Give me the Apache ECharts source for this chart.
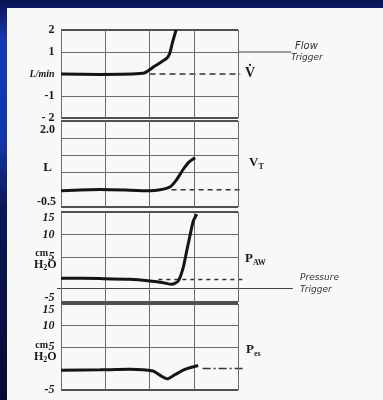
<!DOCTYPE html>
<html><head><meta charset="utf-8">
<script src="https://cdn.jsdelivr.net/npm/echarts@6/dist/echarts.min.js"></script>
<style>
html,body{margin:0;padding:0;width:383px;height:400px;overflow:hidden;
background:linear-gradient(to bottom,#0b1350 0%,#1838b4 10%,#1535aa 35%,#0c1756 52%,#070b33 100%);}
#c{width:383px;height:400px;}
</style></head><body><div id="c"></div>
<script>
// Time divisions of the recording
const xCols = [0,1,2,3,4];

// Flow, L/min
const flowTrace = [[0,0],[0.88,-0.02],[1.85,0.03],[2.12,0.36],[2.40,0.73],[2.46,0.95],[2.51,1.36],[2.60,2.0]];
const flowRows = [2,1,-1,-2];
const flowLabels = {'2':'2','1':'1','0':'{u|L/min}','-1':'-1','-2':'- 2'};
const flowTrigger = [[4,1],[5.2,1]];
const flowBase = [[2.0,0],[4.05,0]];

// Tidal volume, L
const vtTrace = [[0,-0.03],[0.88,0.01],[1.56,-0.01],[2.01,-0.03],[2.24,0.0],[2.46,0.08],[2.61,0.29],[2.76,0.59],[2.88,0.79],[3.03,0.93]];
const vtRows = [2.0,1.5,1.0,0.5,-0.5];
const vtBase = [[2.5,0],[4.1,0]];

// Airway pressure, cm H2O
const pawTrace = [[0,0.3],[0.88,0.2],[1.56,0.05],[2.01,-0.33],[2.31,-0.7],[2.50,-1.07],[2.65,-0.33],[2.76,2.6],[2.84,6.3],[2.92,10.0],[2.99,13.0],[3.07,14.5]];
const pawRows = [15,10,5,-5];
const pawLabels = {'15':'{dn|15}','10':'10','5':'5','-5':'{up|-5}'};
const pawTrigger = [[-0.09,-2],[5.24,-2]];
const pawBase = [[2.2,0],[4.1,0]];

// Esophageal pressure, cm H2O
const pesTrace = [[0,-0.4],[0.88,-0.3],[1.56,-0.2],[2.08,-0.6],[2.24,-1.6],[2.40,-2.4],[2.58,-1.4],[2.80,-0.2],[3.10,0.7]];
const pesRows = [15,10,5,-5];
const pesLabels = {'15':'{dn|15}','10':'10','5':'5','-5':'-5'};
const pesBase = [[3.2,0],[4.15,0]];

const ink = '#151515';
const rule = '#6a6a6a';
const serif = "'Liberation Serif','DejaVu Serif',serif";
const X_MIN = -0.1, X_MAX = 5.3, UNIT = 44.25;

const panels = [
  {top:30, height:88, min:-2, max:2, interval:1, labels:flowLabels, rows:flowRows, trace:flowTrace, base:flowBase, dash:[6,4]},
  {top:121, height:86, min:-0.5, max:2, interval:0.5, labels:null, rows:vtRows, trace:vtTrace, base:vtBase, dash:[5,4]},
  {top:212, height:90, min:-5, max:15, interval:5, labels:pawLabels, rows:pawRows, trace:pawTrace, base:pawBase, dash:[4,4]},
  {top:304, height:86, min:-5, max:15, interval:5, labels:pesLabels, rows:pesRows, trace:pesTrace, base:pesBase, dash:[8,3,2,3]}
];

const labelFont = {fontFamily:serif, fontWeight:'bold', fontSize:12, color:'#1a1a1a'};
const grid = [], xAxis = [], yAxis = [], series = [];
panels.forEach((p, i) => {
  grid.push({left:61 + X_MIN * UNIT, width:(X_MAX - X_MIN) * UNIT, top:p.top, height:p.height});
  xAxis.push({type:'value', gridIndex:i, min:X_MIN, max:X_MAX,
    axisLine:{show:false}, axisTick:{show:false}, axisLabel:{show:false}, splitLine:{show:false}});
  yAxis.push({type:'value', gridIndex:i, min:p.min, max:p.max, interval:p.interval,
    axisLine:{show:false}, axisTick:{show:false}, splitLine:{show:false},
    axisLabel:{show:!!p.labels, margin:2, ...labelFont,
      fontStyle: i >= 2 ? 'italic' : 'normal',
      formatter: v => (p.labels && p.labels[String(v)]) || '',
      rich:{
        u:{fontFamily:serif, fontStyle:'italic', fontSize:10, fontWeight:'bold', color:'#1a1a1a'},
        dn:{...labelFont, fontStyle:'italic', padding:[12,0,0,0]},
        up:{...labelFont, fontStyle:'italic', padding:[0,0,9,0]}
      }}});
  const edge = v => v === p.min || v === p.max;
  const rowLines = p.rows.map(v => [
    {coord:[xCols[0], v], lineStyle:{width:edge(v)?2:1, color:edge(v)?'#505050':rule}},
    {coord:[xCols[xCols.length-1], v]}
  ]);
  const colLines = xCols.map(c => [{coord:[c, p.min]}, {coord:[c, p.max]}]);
  series.push({type:'line', xAxisIndex:i, yAxisIndex:i, data:p.trace, showSymbol:false, smooth:0.25,
    lineStyle:{color:ink, width:3}, z:5,
    markLine:{silent:true, symbol:'none', label:{show:false}, animation:false,
      lineStyle:{color:rule, width:1, type:'solid'},
      data:rowLines.concat(colLines)}});
  series.push({type:'line', xAxisIndex:i, yAxisIndex:i, data:p.base, showSymbol:false,
    lineStyle:{color:'#333', width:1.5, type:p.dash}, z:4});
});
series.push({type:'line', xAxisIndex:0, yAxisIndex:0, data:flowTrigger, showSymbol:false,
  lineStyle:{color:'#444', width:1}, z:3});
series.push({type:'line', xAxisIndex:2, yAxisIndex:2, data:pawTrigger, showSymbol:false,
  lineStyle:{color:'#444', width:1}, z:3});

const hand = "italic 9px 'DejaVu Sans',sans-serif";
const handLg = "italic 10px 'DejaVu Sans',sans-serif";
const sub = (main, s, x, y) => ({type:'text', style:{x, y, text:'{a|'+main+'}{s|'+s+'}', verticalAlign:'middle',
  rich:{a:{font:"bold 13px "+serif, fill:'#1a1a1a'}, s:{font:"bold 8px "+serif, fill:'#1a1a1a', padding:[7,0,0,0]}}}});
const h2o = (x, y) => ({type:'text', style:{x, y, text:'{a|H}{s|2}{a|O}', verticalAlign:'middle',
  rich:{a:{font:"bold 12px "+serif, fill:'#1a1a1a'}, s:{font:"bold 8px "+serif, fill:'#1a1a1a', padding:[6,0,0,0]}}}});
const graphic = [
  {type:'rect', z:-10, silent:true, shape:{x:7, y:8, width:376, height:392}, style:{fill:'#f8f8f6'}},
  // volume axis
  {type:'text', style:{x:55, y:130, text:'2.0', font:"bold 12px "+serif, fill:'#1a1a1a', align:'right', verticalAlign:'middle'}},
  {type:'text', style:{x:52, y:168, text:'L', font:"bold 13px "+serif, fill:'#1a1a1a', align:'right', verticalAlign:'middle'}},
  {type:'text', style:{x:56, y:202, text:'-0.5', font:"bold 12px "+serif, fill:'#1a1a1a', align:'right', verticalAlign:'middle'}},
  // pressure units
  {type:'text', style:{x:48, y:253, text:'cm', font:"bold 10px "+serif, fill:'#1a1a1a', align:'right', verticalAlign:'middle'}},
  h2o(34, 265),
  {type:'text', style:{x:48, y:345, text:'cm', font:"bold 10px "+serif, fill:'#1a1a1a', align:'right', verticalAlign:'middle'}},
  h2o(34, 357),
  // trace names
  {type:'text', style:{x:245, y:73, text:'V\u0307', font:"bold 14px "+serif, fill:'#1a1a1a', verticalAlign:'middle'}},
  {type:'text', style:{x:295, y:46, text:'Flow', font:handLg, fill:'#333', verticalAlign:'middle'}},
  {type:'text', style:{x:291, y:58, text:'Trigger', font:hand, fill:'#333', verticalAlign:'middle'}},
  sub('V', 'T', 249, 163),
  sub('P', 'AW', 245, 259),
  {type:'text', style:{x:300, y:278, text:'Pressure', font:hand, fill:'#333', verticalAlign:'middle'}},
  {type:'text', style:{x:300, y:290, text:'Trigger', font:hand, fill:'#333', verticalAlign:'middle'}},
  sub('P', 'es', 246, 350)
];

const chart = echarts.init(document.getElementById('c'), null, {renderer:'canvas'});
chart.setOption({animation:false, backgroundColor:'transparent', grid, xAxis, yAxis, series, graphic});
</script></body></html>
